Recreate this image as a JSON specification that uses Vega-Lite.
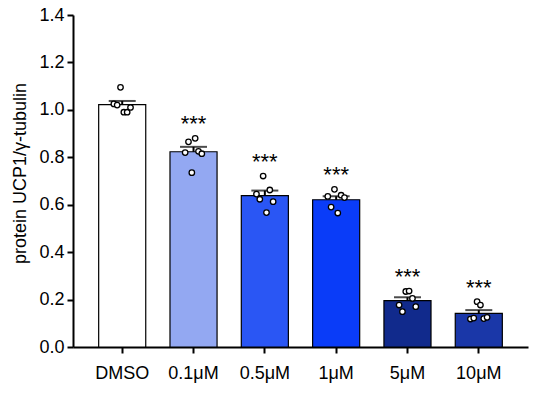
{
  "$schema": "https://vega.github.io/schema/vega-lite/v6.json",
  "width": 455,
  "height": 332,
  "autosize": "none",
  "padding": {"left": 73, "top": 15, "right": 11, "bottom": 46},
  "background": "white",
  "config": {
    "view": {"stroke": null},
    "font": "Liberation Sans",
    "axis": {
      "domainColor": "#000",
      "domainWidth": 2,
      "tickColor": "#000",
      "tickWidth": 2,
      "tickSize": 6,
      "labelColor": "#000",
      "labelFont": "Liberation Sans",
      "labelFontSize": 18,
      "titleFont": "Liberation Sans",
      "titleColor": "#000",
      "grid": false
    }
  },
  "data": {
    "values": [
      {"group": "DMSO", "rep": 1, "value": 1.025},
      {"group": "DMSO", "rep": 2, "value": 1.02},
      {"group": "DMSO", "rep": 3, "value": 1.095},
      {"group": "DMSO", "rep": 4, "value": 0.99},
      {"group": "DMSO", "rep": 5, "value": 0.99},
      {"group": "DMSO", "rep": 6, "value": 1.01},
      {"group": "0.1μM", "rep": 1, "value": 0.82},
      {"group": "0.1μM", "rep": 2, "value": 0.865},
      {"group": "0.1μM", "rep": 3, "value": 0.735},
      {"group": "0.1μM", "rep": 4, "value": 0.88},
      {"group": "0.1μM", "rep": 5, "value": 0.825},
      {"group": "0.1μM", "rep": 6, "value": 0.815},
      {"group": "0.5μM", "rep": 1, "value": 0.645},
      {"group": "0.5μM", "rep": 2, "value": 0.623},
      {"group": "0.5μM", "rep": 3, "value": 0.721},
      {"group": "0.5μM", "rep": 4, "value": 0.567},
      {"group": "0.5μM", "rep": 5, "value": 0.662},
      {"group": "0.5μM", "rep": 6, "value": 0.613},
      {"group": "1μM", "rep": 1, "value": 0.635},
      {"group": "1μM", "rep": 2, "value": 0.59},
      {"group": "1μM", "rep": 3, "value": 0.665},
      {"group": "1μM", "rep": 4, "value": 0.565},
      {"group": "1μM", "rep": 5, "value": 0.64},
      {"group": "1μM", "rep": 6, "value": 0.63},
      {"group": "5μM", "rep": 1, "value": 0.177},
      {"group": "5μM", "rep": 2, "value": 0.149},
      {"group": "5μM", "rep": 3, "value": 0.234},
      {"group": "5μM", "rep": 4, "value": 0.236},
      {"group": "5μM", "rep": 5, "value": 0.205},
      {"group": "5μM", "rep": 6, "value": 0.17},
      {"group": "10μM", "rep": 1, "value": 0.118},
      {"group": "10μM", "rep": 2, "value": 0.122},
      {"group": "10μM", "rep": 3, "value": 0.191},
      {"group": "10μM", "rep": 4, "value": 0.177},
      {"group": "10μM", "rep": 5, "value": 0.12},
      {"group": "10μM", "rep": 6, "value": 0.125}
    ]
  },
  "encoding": {
    "x": {
      "field": "group",
      "type": "nominal",
      "sort": ["DMSO", "0.1μM", "0.5μM", "1μM", "5μM", "10μM"],
      "scale": {"paddingInner": 0.34, "paddingOuter": 0.36},
      "axis": {"title": null, "labelAngle": 0, "labelPadding": 11}
    }
  },
  "resolve": {"scale": {"xOffset": "independent"}},
  "layer": [
    {
      "mark": {"type": "errorbar", "extent": "stderr", "ticks": {"size": 27, "thickness": 2, "color": "#000"}, "rule": {"strokeWidth": 2, "color": "#000"}},
      "encoding": {
        "y": {"field": "value", "type": "quantitative", "title": "protein UCP1/γ-tubulin"}
      }
    },
    {
      "mark": {"type": "bar", "stroke": "#000", "strokeWidth": 1.2},
      "encoding": {
        "y": {
          "aggregate": "mean",
          "field": "value",
          "type": "quantitative",
          "title": "protein UCP1/γ-tubulin",
          "scale": {"domain": [0, 1.4], "nice": false},
          "axis": {
            "titleFontSize": 18,
            "titleFontWeight": "normal",
            "titleX": -53,
            "titleY": 158,
            "titleBaseline": "middle",
            "values": [0, 0.2, 0.4, 0.6, 0.8, 1.0, 1.2, 1.4],
            "format": ".1f",
            "labelPadding": 3
          }
        },
        "fill": {
          "field": "group",
          "type": "nominal",
          "scale": {
            "domain": ["DMSO", "0.1μM", "0.5μM", "1μM", "5μM", "10μM"],
            "range": ["#ffffff", "#93a8f2", "#2a56f4", "#0a3cf8", "#112a8c", "#1a37a8"]
          },
          "legend": null
        }
      }
    },
    {
      "mark": {"type": "point", "shape": "circle", "filled": true, "fill": "#fff", "stroke": "#000", "strokeWidth": 1.3, "size": 30, "opacity": 1},
      "encoding": {
        "y": {"field": "value", "type": "quantitative", "title": "protein UCP1/γ-tubulin"},
        "xOffset": {"field": "rep", "type": "ordinal", "scale": {"type": "point", "range": [13.5, 33.5]}}
      }
    },
    {
      "transform": [{"filter": "datum.group !== 'DMSO'"}],
      "mark": {"type": "text", "fontSize": 22, "baseline": "alphabetic", "dy": -7, "color": "#000", "font": "Liberation Sans"},
      "encoding": {
        "y": {"aggregate": "max", "field": "value", "type": "quantitative", "title": "protein UCP1/γ-tubulin"},
        "text": {"value": "***"}
      }
    }
  ]
}
